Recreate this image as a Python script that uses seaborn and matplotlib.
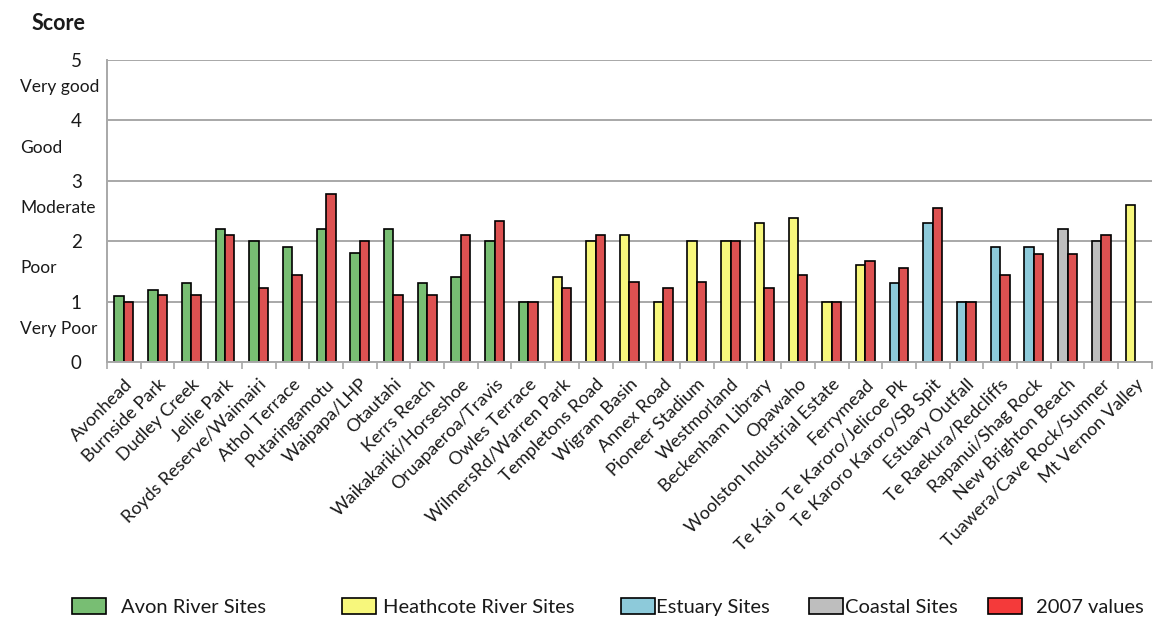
import numpy as np
import pandas as pd
import matplotlib
matplotlib.use("Agg")
import matplotlib.pyplot as plt
import matplotlib.transforms as mtransforms
from matplotlib.patches import Patch
import seaborn as sns

# ---------------- data ----------------
sites = [
    "Avonhead", "Burnside Park", "Dudley Creek", "Jellie Park", "Royds Reserve/Waimairi",
    "Athol Terrace", "Putaringamotu", "Waipapa/LHP", "Otautahi", "Kerrs Reach",
    "Waikakariki/Horseshoe", "Oruapaeroa/Travis", "Owles Terrace", "WilmersRd/Warren Park",
    "Templetons Road", "Wigram Basin", "Annex Road", "Pioneer Stadium", "Westmorland",
    "Beckenham Library", "Opawaho", "Woolston Industrial Estate", "Ferrymead",
    "Te Kai o Te Karoro/Jelicoe Pk", "Te Karoro Karoro/SB Spit", "Estuary Outfall",
    "Te Raekura/Redcliffs", "Rapanui/Shag Rock", "New Brighton Beach",
    "Tuawera/Cave Rock/Sumner", "Mt Vernon Valley",
]
site_groups = (["Avon"] * 13 + ["Heathcote"] * 10 + ["Estuary"] * 5
               + ["Coastal"] * 2 + ["Heathcote"])
current_values = [1.1, 1.2, 1.3, 2.2, 2.0, 1.9, 2.2, 1.8, 2.2, 1.3, 1.4, 2.0, 1.0,
                  1.4, 2.0, 2.1, 1.0, 2.0, 2.0, 2.3, 2.38, 1.0, 1.6,
                  1.3, 2.3, 1.0, 1.9, 1.9,
                  2.2, 2.0,
                  2.6]
values_2007 = [1.0, 1.11, 1.11, 2.11, 1.22, 1.44, 2.78, 2.0, 1.11, 1.11, 2.11, 2.33, 1.0,
               1.22, 2.11, 1.33, 1.22, 1.33, 2.0, 1.22, 1.44, 1.0, 1.67,
               1.55, 2.55, 1.0, 1.44, 1.78,
               1.78, 2.11,
               np.nan]
y_ticks = [0, 1, 2, 3, 4, 5]
rating_labels = ["Very Poor", "Poor", "Moderate", "Good", "Very good"]
legend_labels = ["Avon River Sites", "Heathcote River Sites", "Estuary Sites",
                 "Coastal Sites", "2007 values"]

# ---------------- styles ----------------
group_colors = {"Avon": "#78BE73", "Heathcote": "#F7F77C",
                "Estuary": "#8DCADA", "Coastal": "#BEBEBE"}
red = "#F43A3A"
grid_col = "#A8A8A8"
text_col = "#1A1A1A"

sns.set_theme(style="white")
plt.rcParams['font.family'] = ['Lato', 'DejaVu Sans']

n = len(sites)
df = pd.DataFrame({
    "site": sites * 2,
    "series": ["current"] * n + ["2007"] * n,
    "value": current_values + values_2007,
})

W, H = 1153, 619
fig = plt.figure(figsize=(W / 100, H / 100), dpi=100)
ax = fig.add_axes([107 / W, 1 - 362 / H, 1 - 107 / W - 0.001, (362 - 60) / H])

sns.barplot(data=df, x="site", y="value", hue="series", hue_order=["current", "2007"],
            order=sites, palette=["#78BE73", red], width=0.56, errorbar=None,
            edgecolor="black", linewidth=1.2, ax=ax, legend=False, dodge=True)

# recolor first series by site group
for patch, g in zip(ax.containers[0].patches, site_groups):
    patch.set_facecolor(group_colors[g])

ax.set_xlim(-0.5, n - 0.5)
ax.set_ylim(0, 5)
ax.set_yticks(y_ticks)
ax.set_yticklabels([str(v) for v in y_ticks], fontsize=13.5, color=text_col)
ax.tick_params(axis="y", length=7.2, width=1.2, color=grid_col, pad=11)
ax.yaxis.grid(True, color=grid_col, linewidth=1.4)
ax.set_axisbelow(True)
ax.set_xlabel("")
ax.set_ylabel("")

ax.set_xticks(range(n))
ax.set_xticklabels(sites, rotation=45, ha="right", rotation_mode="anchor",
                   fontsize=13, color=text_col)
ax.tick_params(axis="x", which="major", length=0, pad=10)
ax.set_xticks(np.arange(-0.5, n, 1), minor=True)
ax.tick_params(axis="x", which="minor", length=5, width=1.2, color=grid_col, bottom=True)

for side in ["top", "right"]:
    ax.spines[side].set_visible(False)
for side in ["left", "bottom"]:
    ax.spines[side].set_color(grid_col)
    ax.spines[side].set_linewidth(1.4)

# rating labels
trans = mtransforms.blended_transform_factory(fig.transFigure, ax.transData)
for i, lab in enumerate(rating_labels):
    ax.text(20 / W, i + 0.55, lab, transform=trans, ha="left", va="center",
            fontsize=12.5, color=text_col)

fig.text(32 / W, 1 - 23 / H, "Score", ha="left", va="center", fontsize=15.5,
         fontweight="bold", color=text_col)

# legend entries
leg_colors = [group_colors["Avon"], group_colors["Heathcote"], group_colors["Estuary"],
              group_colors["Coastal"], red]
leg_x = [72, 342, 621, 809, 988]
leg_pad = [0.73, 0.34, 0.05, 0.1, 0.69]
fs = 14.5
for lab, col, x, pad in zip(legend_labels, leg_colors, leg_x, leg_pad):
    h = Patch(facecolor=col, edgecolor="black", linewidth=1.2)
    fig.legend([h], [lab], loc="center left", bbox_to_anchor=(x / W, 1 - 607 / H),
               frameon=False, fontsize=fs, handlelength=1.7, handleheight=0.85,
               handletextpad=pad, borderpad=0, borderaxespad=0,
               labelcolor=text_col)

fig.savefig("out.png", dpi=100)
